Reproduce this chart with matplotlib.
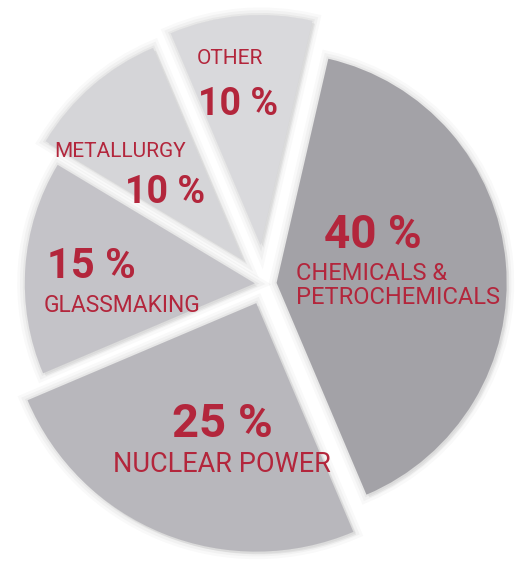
import matplotlib.pyplot as plt
import matplotlib.patheffects as pe
plt.switch_backend('Agg')

# sectors in clockwise order, starting at the top right
sectors = ['CHEMICALS &\nPETROCHEMICALS', 'NUCLEAR POWER', 'GLASSMAKING', 'METALLURGY', 'OTHER']
shares = [40, 25, 15, 10, 10]

colors = ['#a3a2a7', '#b8b7bc', '#c4c3c8', '#d5d5d8', '#d9d9dc']
explode = [0.055, 0.09, 0.04, 0.14, 0.17]
red = '#b3263c'

W, H = 517, 563
fig = plt.figure(figsize=(W / 100, H / 100), dpi=100)
ax = fig.add_axes([0, 0, 1, 1])

wedges, _ = ax.pie(shares, explode=explode, colors=colors, startangle=77,
                   counterclock=False, radius=1, center=(0, 0),
                   wedgeprops=dict(linewidth=0))
# nuclear power slice sticks out a little further
wedges[1].set_radius(1.08)

# soft shadow round each slice
for w in wedges:
    w.set_path_effects([
        pe.SimplePatchShadow(offset=(2, -2), shadow_rgbFace='#000000', alpha=0.05),
        pe.Stroke(linewidth=11, foreground='#000000', alpha=0.025),
        pe.Stroke(linewidth=7, foreground='#000000', alpha=0.03),
        pe.Stroke(linewidth=3, foreground='#000000', alpha=0.04),
        pe.Normal(),
    ])

cx, cy, r = 264, 284, 230
ax.set_aspect('auto')
ax.set_xlim(-cx / r, (W - cx) / r)
ax.set_ylim(-(H - cy) / r, cy / r)
ax.axis('off')


def fx(px):
    return px / W


def fy(py):
    return 1 - py / H


# (x, baseline, size) in pixels for percent and name of each sector
pct_pos = [(373, 248, 33), (222, 437, 34), (91, 278, 30), (165, 203, 27), (238, 115, 27)]
name_pos = [(296, 280, 17, 'left'), (222, 472, 19.5, 'center'), (122, 312, 16.5, 'center'),
            (120, 157, 15, 'center'), (230, 64, 15, 'center')]

for name, share, (px, py, ps), (nx, ny, ns, ha) in zip(sectors, shares, pct_pos, name_pos):
    fig.text(fx(px), fy(py), '%d %%' % share, color=red, fontsize=ps,
             fontweight='bold', family=['Roboto', 'DejaVu Sans'],
             ha='center', va='baseline')
    for i, line in enumerate(name.split('\n')):
        fig.text(fx(nx), fy(ny + i * 24), line, color=red, fontsize=ns,
                 family=['Roboto', 'DejaVu Sans'], ha=ha, va='baseline')

fig.savefig('out.png', dpi=100, facecolor='white')
